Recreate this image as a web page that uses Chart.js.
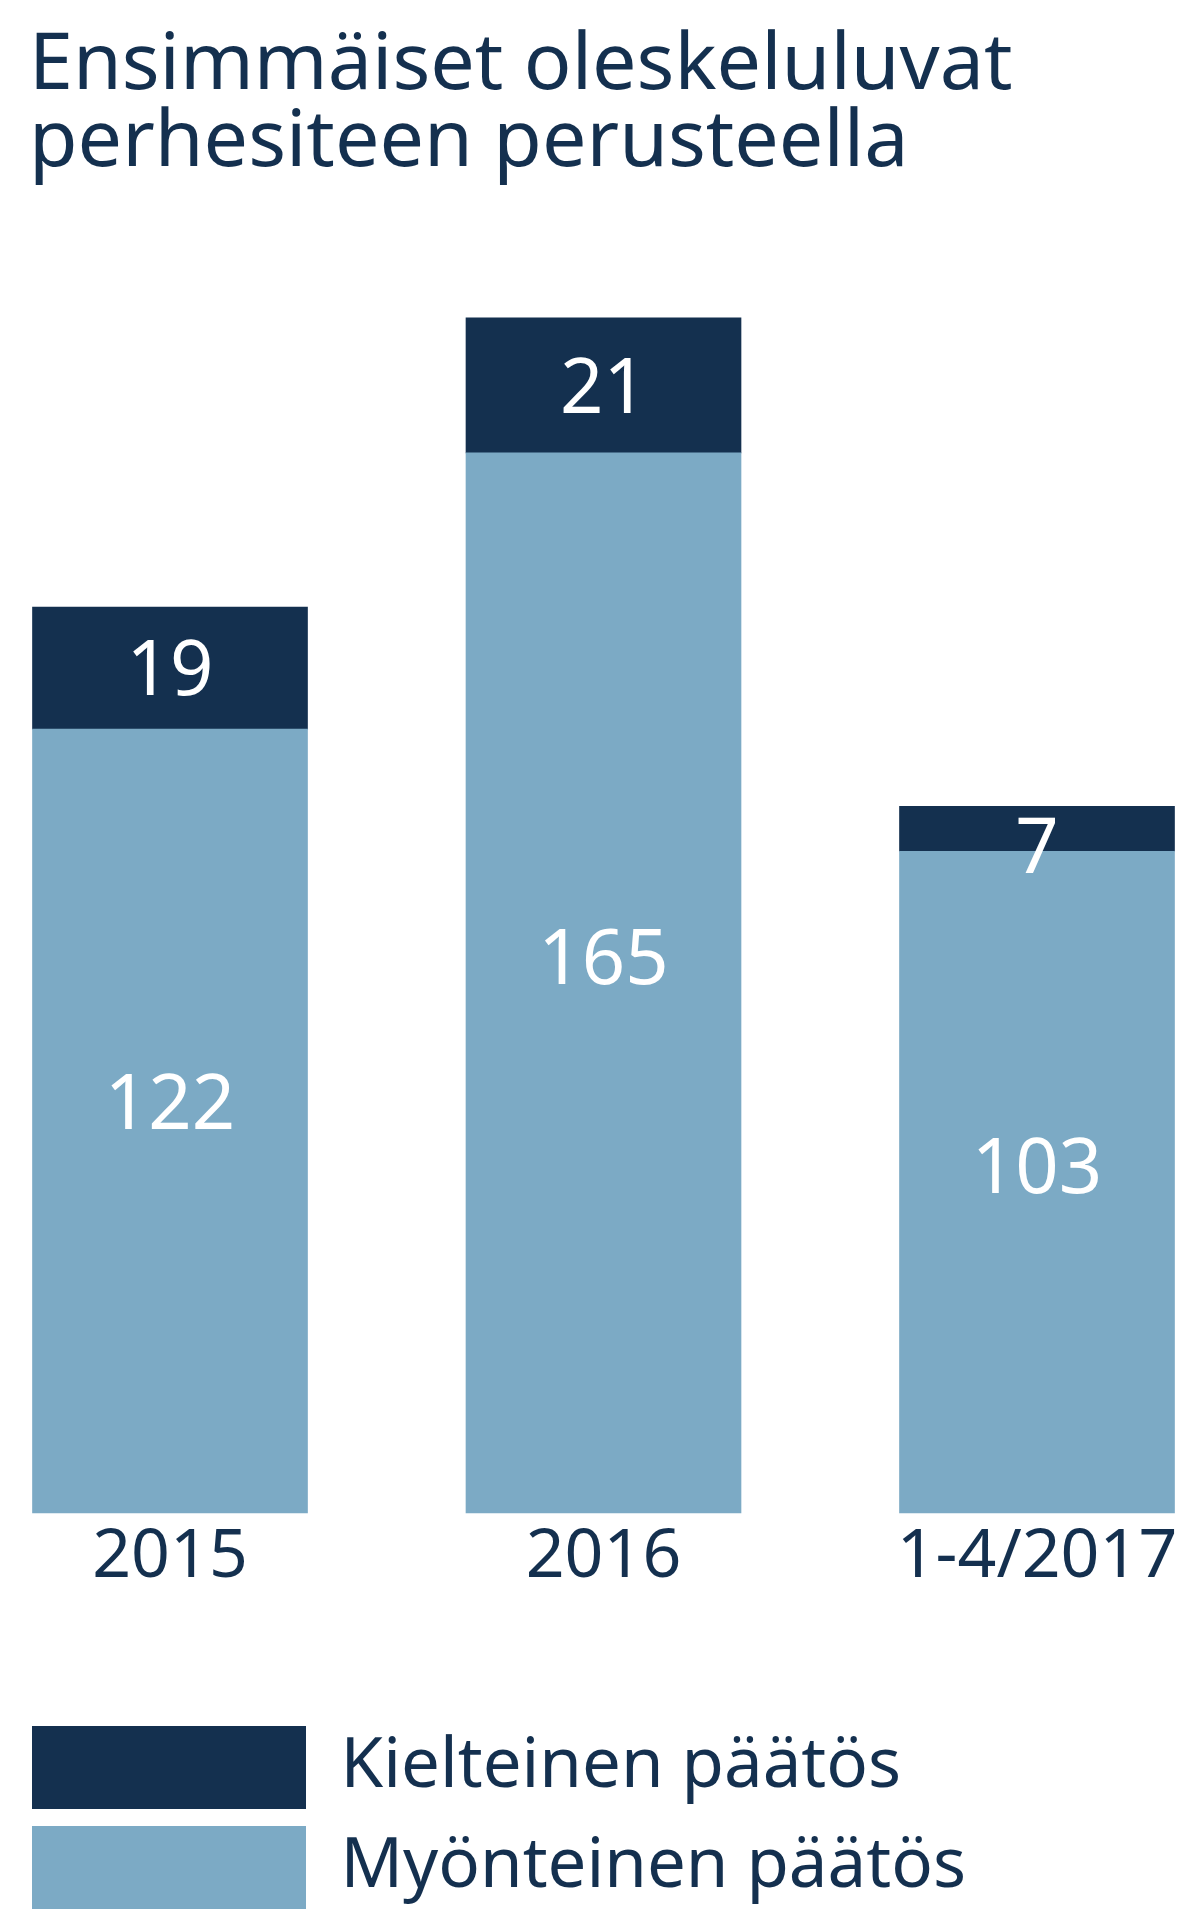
<!DOCTYPE html>
<html>
<head>
<meta charset="utf-8">
<script src="https://cdn.jsdelivr.net/npm/chart.js@4.4.1/dist/chart.umd.min.js"></script>
<style>
html,body{margin:0;padding:0;background:#ffffff;}
#wrap{width:1199px;height:1929px;position:relative;}
</style>
</head>
<body>
<div id="wrap"><canvas id="c"></canvas></div>
<script>
// ---- data ----
const titleLines = ['Ensimmäiset oleskeluluvat', 'perhesiteen perusteella'];
const categories = ['2015', '2016', '1-4/2017'];
const seriesNames = ['Myönteinen päätös', 'Kielteinen päätös'];
const myonteinen = [122, 165, 103];
const kielteinen = [19, 21, 7];

// ---- style ----
const colorLight = '#7CAAC5';
const colorDark = '#14304F';
const FONT = 'Noto Sans';

const valueLabels = {
  id: 'valueLabels',
  afterDatasetsDraw(chart) {
    const ctx = chart.ctx;
    const size = 76;
    const capH = 0.714 * size;
    ctx.save();
    ctx.font = size + 'px "' + FONT + '"';
    ctx.fillStyle = '#ffffff';
    ctx.textAlign = 'center';
    ctx.textBaseline = 'alphabetic';
    chart.data.datasets.forEach((ds, di) => {
      const meta = chart.getDatasetMeta(di);
      meta.data.forEach((bar, i) => {
        const p = bar.getProps(['x', 'y', 'base'], true);
        const top = Math.min(p.y, p.base);
        const bottom = Math.max(p.y, p.base);
        const h = bottom - top;
        let baseline;
        if (h < capH + 20) baseline = top + 12 + capH;
        else baseline = top + ds.labelAnchor * h + capH / 2;
        ctx.fillText(String(ds.data[i]), p.x, baseline);
      });
    });
    ctx.restore();
  }
};

const shiftTitle = {
  id: 'shiftTitle',
  afterLayout(chart) {
    if (chart.titleBlock) chart.titleBlock.left += 14;
  }
};

new Chart(document.getElementById('c'), {
  type: 'bar',
  data: {
    labels: categories,
    datasets: [
      { label: seriesNames[0], data: myonteinen, backgroundColor: colorLight, borderWidth: 0,
        barThickness: 275, clip: false, labelAnchor: 0.475 },
      { label: seriesNames[1], data: kielteinen, backgroundColor: colorDark, borderWidth: 0,
        barThickness: 275, clip: false, labelAnchor: 0.5 }
    ]
  },
  options: {
    responsive: true,
    maintainAspectRatio: false,
    animation: false,
    layout: { padding: { left: 15, right: 0, top: 0, bottom: 10 } },
    scales: {
      x: {
        stacked: true,
        offset: false,
        grid: { display: false, drawTicks: false },
        border: { display: false },
        ticks: { color: colorDark, font: { family: FONT, size: 68, lineHeight: 1.2 }, padding: 4,
                 maxRotation: 0, minRotation: 0, autoSkip: false },
        afterFit(s) { s.height = 196; }
      },
      y: {
        stacked: true,
        min: 0,
        max: 200,
        display: true,
        grid: { display: false, drawTicks: false },
        border: { display: false },
        ticks: { display: false },
        afterFit(s) { s.width = 155; }
      },
      y2: {
        type: 'linear',
        position: 'right',
        display: true,
        grid: { display: false, drawTicks: false },
        border: { display: false },
        ticks: { display: false },
        afterFit(s) { s.width = 162; }
      }
    },
    plugins: {
      title: {
        display: true,
        text: titleLines,
        align: 'start',
        color: colorDark,
        font: { family: FONT, size: 79, weight: 'normal', lineHeight: '77px' },
        padding: { top: 28, bottom: 46 }
      },
      legend: {
        display: true,
        position: 'bottom',
        align: 'start',
        reverse: true,
        labels: { boxWidth: 274, boxHeight: 83, padding: 17, color: colorDark,
                  font: { family: FONT, size: 69 } }
      },
      tooltip: { enabled: false }
    }
  },
  plugins: [valueLabels, shiftTitle]
});
</script>
</body>
</html>
